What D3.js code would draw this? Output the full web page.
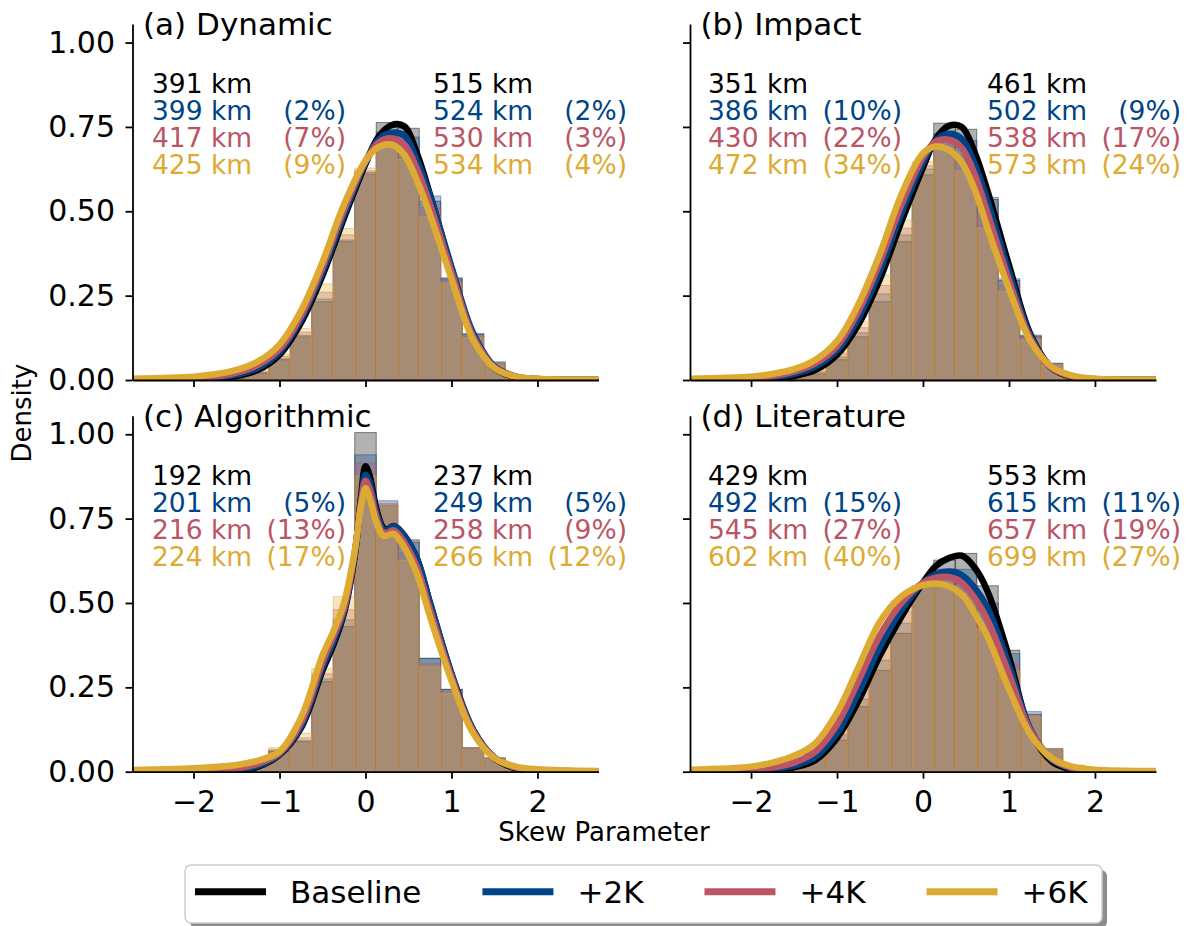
<!DOCTYPE html>
<html>
<head>
<meta charset="utf-8">
<script src="https://cdn.jsdelivr.net/npm/d3@7"></script>
<style>
  body { margin: 0; background: #fff; }
  svg { font-family: "DejaVu Sans", sans-serif; }
</style>
</head>
<body>
<svg id="chart" width="1190" height="926"></svg>
<script>
// series and panel labels
const seriesNames = ["Baseline", "+2K", "+4K", "+6K"];
const seriesColors = ["#000000", "#004488", "#BB5566", "#DDAA33"];
const panelTitles = ["(a) Dynamic", "(b) Impact", "(c) Algorithmic", "(d) Literature"];
const xTicks = [-2, -1, 0, 1, 2];
const yTicks = [0, 0.25, 0.5, 0.75, 1.0];

// histogram bins (width 0.25), one row per series: Baseline, +2K, +4K, +6K
const binCenters = [-1.5, -1.25, -1.0, -0.75, -0.5, -0.25, 0, 0.25, 0.5, 0.75, 1.0, 1.25, 1.5, 1.75, 2.0];
const histA = [
  [0.004, 0.02, 0.06, 0.128, 0.232, 0.41, 0.61, 0.763, 0.746, 0.53, 0.30, 0.135, 0.05, 0.01, 0.002],
  [0.005, 0.022, 0.063, 0.132, 0.24, 0.415, 0.615, 0.735, 0.72, 0.545, 0.303, 0.138, 0.054, 0.012, 0.002],
  [0.007, 0.026, 0.07, 0.142, 0.26, 0.43, 0.62, 0.72, 0.68, 0.51, 0.295, 0.13, 0.05, 0.012, 0.002],
  [0.01, 0.032, 0.077, 0.153, 0.285, 0.449, 0.628, 0.70, 0.654, 0.484, 0.287, 0.126, 0.048, 0.012, 0.003]
];
const histB = [
  [0.004, 0.018, 0.06, 0.128, 0.232, 0.41, 0.608, 0.761, 0.743, 0.535, 0.295, 0.13, 0.048, 0.01, 0.002],
  [0.006, 0.022, 0.068, 0.14, 0.255, 0.43, 0.625, 0.73, 0.71, 0.541, 0.30, 0.133, 0.05, 0.011, 0.002],
  [0.008, 0.027, 0.08, 0.155, 0.28, 0.45, 0.635, 0.71, 0.665, 0.49, 0.28, 0.125, 0.047, 0.011, 0.002],
  [0.01, 0.032, 0.094, 0.173, 0.311, 0.474, 0.647, 0.687, 0.62, 0.45, 0.262, 0.119, 0.045, 0.012, 0.003]
];
const histC = [
  [0.003, 0.012, 0.06, 0.089, 0.267, 0.43, 1.005, 0.79, 0.687, 0.336, 0.244, 0.07, 0.04, 0.01, 0.002],
  [0.004, 0.014, 0.062, 0.092, 0.275, 0.45, 0.939, 0.803, 0.68, 0.336, 0.244, 0.071, 0.041, 0.011, 0.002],
  [0.006, 0.018, 0.066, 0.10, 0.29, 0.48, 0.914, 0.795, 0.65, 0.32, 0.238, 0.07, 0.04, 0.011, 0.002],
  [0.008, 0.02, 0.071, 0.114, 0.306, 0.519, 0.876, 0.79, 0.627, 0.311, 0.232, 0.068, 0.04, 0.012, 0.003]
];
const histD = [
  [0.02, 0.054, 0.094, 0.193, 0.30, 0.41, 0.548, 0.627, 0.647, 0.551, 0.36, 0.17, 0.065, 0.015, 0.003],
  [0.025, 0.06, 0.11, 0.215, 0.33, 0.44, 0.55, 0.60, 0.60, 0.50, 0.35, 0.178, 0.069, 0.018, 0.004],
  [0.03, 0.063, 0.125, 0.24, 0.37, 0.475, 0.55, 0.57, 0.56, 0.46, 0.32, 0.17, 0.067, 0.018, 0.004],
  [0.035, 0.064, 0.138, 0.257, 0.40, 0.504, 0.548, 0.548, 0.529, 0.425, 0.30, 0.163, 0.065, 0.02, 0.005]
];

// density curves
const kdeGrid = [-2.71, -2.0, -1.75, -1.5, -1.25, -1.0, -0.75, -0.5, -0.25, 0, 0.15, 0.3, 0.45, 0.6, 0.75, 1.0, 1.25, 1.5, 1.75, 2.0, 2.71];
const kdeGridC = [-2.71, -2.0, -1.5, -1.25, -1.0, -0.75, -0.5, -0.375, -0.25, -0.125, -0.05, 0, 0.05, 0.125, 0.2, 0.25, 0.33, 0.45, 0.6, 0.75, 1.0, 1.25, 1.5, 1.75, 2.0, 2.71];
const kdeA = [
  [0, 0.002, 0.005, 0.012, 0.03, 0.075, 0.17, 0.31, 0.48, 0.64, 0.72, 0.755, 0.752, 0.67, 0.55, 0.33, 0.13, 0.035, 0.008, 0.002, 0],
  [0, 0.003, 0.007, 0.016, 0.036, 0.083, 0.18, 0.32, 0.49, 0.645, 0.712, 0.733, 0.725, 0.65, 0.545, 0.335, 0.14, 0.04, 0.01, 0.003, 0],
  [0.001, 0.005, 0.01, 0.022, 0.045, 0.092, 0.19, 0.335, 0.505, 0.648, 0.703, 0.716, 0.698, 0.625, 0.52, 0.32, 0.13, 0.038, 0.01, 0.003, 0.001],
  [0.004, 0.01, 0.017, 0.03, 0.055, 0.105, 0.205, 0.35, 0.52, 0.65, 0.69, 0.698, 0.668, 0.59, 0.49, 0.30, 0.12, 0.035, 0.01, 0.004, 0.001]
];
const kdeB = [
  [0, 0.002, 0.005, 0.012, 0.03, 0.075, 0.165, 0.30, 0.47, 0.63, 0.715, 0.753, 0.75, 0.675, 0.56, 0.34, 0.135, 0.035, 0.008, 0.002, 0],
  [0, 0.003, 0.008, 0.018, 0.04, 0.088, 0.185, 0.325, 0.495, 0.645, 0.71, 0.73, 0.715, 0.64, 0.53, 0.32, 0.13, 0.036, 0.009, 0.002, 0],
  [0.001, 0.005, 0.012, 0.025, 0.05, 0.10, 0.205, 0.35, 0.52, 0.66, 0.707, 0.712, 0.688, 0.61, 0.495, 0.295, 0.122, 0.036, 0.01, 0.003, 0.001],
  [0.004, 0.01, 0.018, 0.032, 0.06, 0.115, 0.225, 0.375, 0.55, 0.672, 0.692, 0.682, 0.645, 0.565, 0.45, 0.27, 0.115, 0.038, 0.012, 0.004, 0.001]
];
const kdeC = [
  [0, 0.001, 0.004, 0.015, 0.05, 0.13, 0.30, 0.375, 0.47, 0.64, 0.82, 0.905, 0.875, 0.78, 0.725, 0.718, 0.728, 0.70, 0.63, 0.50, 0.29, 0.125, 0.04, 0.01, 0.003, 0],
  [0, 0.002, 0.006, 0.018, 0.052, 0.135, 0.31, 0.385, 0.475, 0.645, 0.81, 0.88, 0.855, 0.77, 0.72, 0.716, 0.728, 0.70, 0.63, 0.50, 0.29, 0.125, 0.042, 0.012, 0.004, 0.001],
  [0.001, 0.004, 0.01, 0.024, 0.055, 0.145, 0.325, 0.40, 0.485, 0.65, 0.80, 0.862, 0.835, 0.755, 0.71, 0.708, 0.715, 0.68, 0.605, 0.48, 0.28, 0.12, 0.041, 0.013, 0.005, 0.001],
  [0.005, 0.01, 0.02, 0.033, 0.06, 0.16, 0.345, 0.415, 0.50, 0.655, 0.79, 0.84, 0.81, 0.74, 0.70, 0.70, 0.705, 0.665, 0.585, 0.46, 0.27, 0.115, 0.04, 0.015, 0.007, 0.002]
];
const kdeD = [
  [0, 0.002, 0.005, 0.013, 0.035, 0.10, 0.21, 0.345, 0.46, 0.56, 0.61, 0.633, 0.64, 0.605, 0.535, 0.34, 0.12, 0.03, 0.006, 0.001, 0],
  [0.001, 0.003, 0.008, 0.018, 0.045, 0.115, 0.235, 0.37, 0.48, 0.56, 0.585, 0.593, 0.583, 0.545, 0.485, 0.315, 0.125, 0.036, 0.008, 0.002, 0],
  [0.002, 0.006, 0.013, 0.027, 0.06, 0.14, 0.27, 0.405, 0.50, 0.56, 0.575, 0.577, 0.56, 0.515, 0.45, 0.29, 0.12, 0.038, 0.01, 0.003, 0.001],
  [0.006, 0.015, 0.027, 0.047, 0.085, 0.175, 0.31, 0.445, 0.52, 0.553, 0.558, 0.55, 0.525, 0.47, 0.40, 0.245, 0.11, 0.04, 0.014, 0.006, 0.002]
];

// annotation text, per panel: left block and right block
const leftKm = [["391 km", "399 km", "417 km", "425 km"], ["351 km", "386 km", "430 km", "472 km"],
                ["192 km", "201 km", "216 km", "224 km"], ["429 km", "492 km", "545 km", "602 km"]];
const leftPct = [["", "(2%)", "(7%)", "(9%)"], ["", "(10%)", "(22%)", "(34%)"],
                 ["", "(5%)", "(13%)", "(17%)"], ["", "(15%)", "(27%)", "(40%)"]];
const rightKm = [["515 km", "524 km", "530 km", "534 km"], ["461 km", "502 km", "538 km", "573 km"],
                 ["237 km", "249 km", "258 km", "266 km"], ["553 km", "615 km", "657 km", "699 km"]];
const rightPct = [["", "(2%)", "(3%)", "(4%)"], ["", "(9%)", "(17%)", "(24%)"],
                  ["", "(5%)", "(9%)", "(12%)"], ["", "(11%)", "(19%)", "(27%)"]];

const hists = [histA, histB, histC, histD];
const kdes = [kdeA, kdeB, kdeC, kdeD];
const grids = [kdeGrid, kdeGrid, kdeGridC, kdeGrid];

// layout
const colX = [132.5, 690];
const rowY = [24, 415.7];
const axW = 466, axH = 356;
const binW = 0.25;

const svg = d3.select("#chart");

panelTitles.forEach(function (title, i) {
  const col = i % 2, row = Math.floor(i / 2);
  const x = d3.scaleLinear().domain([-2.71, 2.71]).range([colX[col], colX[col] + axW]);
  const y = d3.scaleLinear().domain([0, 1.055]).range([rowY[row] + axH, rowY[row]]);
  const g = svg.append("g");

  g.append("clipPath").attr("id", "clip" + i)
    .append("rect")
    .attr("x", colX[col]).attr("y", rowY[row])
    .attr("width", axW).attr("height", axH);

  const plot = g.append("g").attr("clip-path", "url(#clip" + i + ")");

  // histograms
  hists[i].forEach(function (vals, s) {
    plot.append("g").selectAll("rect")
      .data(binCenters.map((c, k) => ({ c: c, v: vals[k] })))
      .join("rect")
      .attr("x", d => x(d.c - binW / 2))
      .attr("y", d => y(d.v))
      .attr("width", d => x(d.c + binW / 2) - x(d.c - binW / 2))
      .attr("height", d => y(0) - y(d.v))
      .attr("fill", seriesColors[s])
      .attr("fill-opacity", 0.3)
      .attr("stroke", seriesColors[s])
      .attr("stroke-opacity", 0.45)
      .attr("stroke-width", 1);
  });

  // density curves
  const line = d3.line()
    .x(d => x(d[0]))
    .y(d => y(d[1]))
    .curve(d3.curveCatmullRom.alpha(0.5));
  kdes[i].forEach(function (vals, s) {
    plot.append("path")
      .datum(grids[i].map((gx, k) => [gx, vals[k]]))
      .attr("fill", "none")
      .attr("stroke", seriesColors[s])
      .attr("stroke-width", 6.5)
      .attr("d", line);
  });

  // axes
  const yAxis = g.append("g")
    .attr("transform", "translate(" + colX[col] + ",0)")
    .call(d3.axisLeft(y).tickValues(yTicks)
      .tickFormat(col === 0 ? d3.format(".2f") : () => "")
      .tickSize(7).tickPadding(10.5).tickSizeOuter(0));
  const xAxis = g.append("g")
    .attr("transform", "translate(0," + (rowY[row] + axH) + ")")
    .call(d3.axisBottom(x).tickValues(xTicks)
      .tickFormat(row === 1 ? d3.format("d") : () => "")
      .tickSize(7).tickPadding(12).tickSizeOuter(0));
  [yAxis, xAxis].forEach(function (a) {
    a.attr("font-size", 30).attr("font-family", "DejaVu Sans, sans-serif");
    a.selectAll("path, line").attr("stroke", "#000").attr("stroke-width", 1.8);
    a.selectAll("text").attr("fill", "#000");
  });

  // panel title
  g.append("text")
    .attr("x", colX[col] + 10.5)
    .attr("y", rowY[row] + 11)
    .attr("font-size", 31)
    .text(title);

  // annotations
  const blocks = [
    { dx: col === 0 ? 19.5 : 18, km: leftKm[i], pct: leftPct[i] },
    { dx: col === 0 ? 300.5 : 297, km: rightKm[i], pct: rightPct[i] }
  ];
  blocks.forEach(function (b) {
    b.km.forEach(function (t, k) {
      const yy = rowY[row] + 69.3 + k * 27;
      g.append("text")
        .attr("x", colX[col] + b.dx).attr("y", yy)
        .attr("font-size", 26.5)
        .attr("fill", seriesColors[k])
        .text(t);
      if (b.pct[k] !== "") {
        g.append("text")
          .attr("x", colX[col] + b.dx + 194).attr("y", yy)
          .attr("font-size", 26.5)
          .attr("text-anchor", "end")
          .attr("fill", seriesColors[k])
          .text(b.pct[k]);
      }
    });
  });
});

// shared axis labels
svg.append("text")
  .attr("x", 604).attr("y", 841)
  .attr("font-size", 26)
  .attr("text-anchor", "middle")
  .text("Skew Parameter");
svg.append("text")
  .attr("transform", "translate(31,413) rotate(-90)")
  .attr("font-size", 26)
  .attr("text-anchor", "middle")
  .text("Density");

// legend
const legend = svg.append("g");
legend.append("rect")
  .attr("x", 190).attr("y", 870).attr("width", 917).attr("height", 58)
  .attr("rx", 6).attr("fill", "#8c8c8c");
legend.append("rect")
  .attr("x", 185).attr("y", 865).attr("width", 917).attr("height", 58)
  .attr("rx", 6).attr("fill", "#fff").attr("stroke", "#cccccc").attr("stroke-width", 1.5);
let lx = 195;
seriesNames.forEach(function (name, s) {
  legend.append("line")
    .attr("x1", lx).attr("x2", lx + 71)
    .attr("y1", 891.7).attr("y2", 891.7)
    .attr("stroke", seriesColors[s]).attr("stroke-width", 7);
  const t = legend.append("text")
    .attr("x", lx + 95).attr("y", 903)
    .attr("font-size", 31)
    .text(name);
  lx = lx + 95 + t.node().getComputedTextLength() + 61;
});
</script>
</body>
</html>
